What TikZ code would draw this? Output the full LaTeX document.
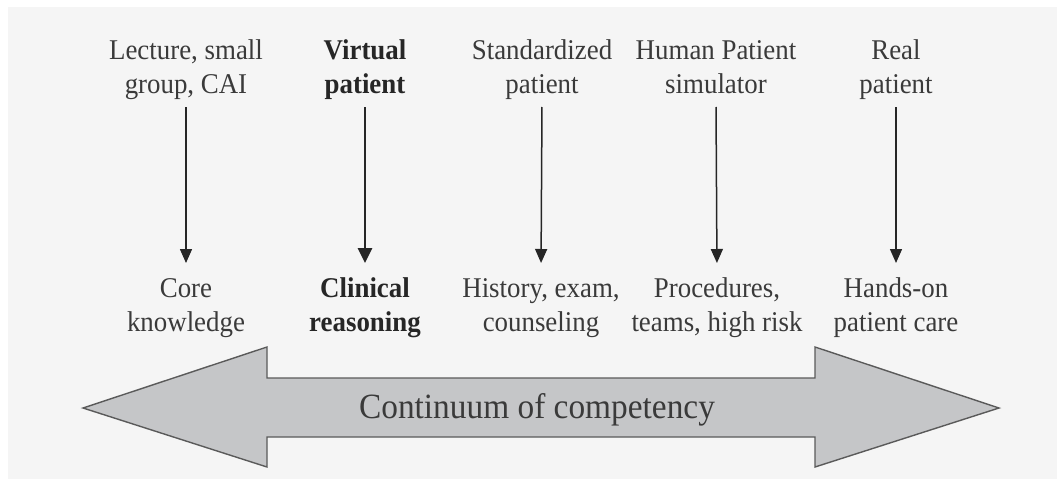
\documentclass[tikz,border=0pt]{standalone}
\usepackage{fontspec}
\setmainfont{Liberation Serif}[FakeStretch=0.94]
\usetikzlibrary{arrows.meta}
\definecolor{panel}{HTML}{F5F5F5}
\definecolor{txt}{HTML}{3A3A3A}
\definecolor{boldtxt}{HTML}{262626}
\definecolor{arrowfill}{HTML}{C5C6C8}
\definecolor{arrowline}{HTML}{5A5A5A}
\begin{document}
\begin{tikzpicture}[x=1pt,y=-1pt,
  lbl/.style={inner sep=0pt, text=txt, font=\fontsize{28.6}{34}\selectfont},
  toplbl/.style={lbl, anchor=south},
  botlbl/.style={lbl, anchor=north},
  bld/.style={text=boldtxt, font=\fontsize{28.6}{34}\selectfont\bfseries},
  conn/.style={draw=black!85, line width=1.5pt, -{Triangle[length=14pt,width=12pt]}, shorten <=3pt, shorten >=10pt},
  bconn/.style={conn, line width=2.8pt, -{Triangle[length=15pt,width=14pt]}},
  bigarrow/.style={fill=arrowfill, draw=arrowline, line width=1.4pt, line join=miter}
]
\useasboundingbox (0,0) rectangle (1057,479);
\fill[panel] (8,7) rectangle (1057,479);

\node[toplbl] (t1) at (186,104) {\begin{tabular}{@{}c@{}}Lecture, small\\group, CAI\end{tabular}};
\node[toplbl,bld] (t2) at (365,104) {\begin{tabular}{@{}c@{}}Virtual\\patient\end{tabular}};
\node[toplbl] (t3) at (542,104) {\begin{tabular}{@{}c@{}}Standardized\\patient\end{tabular}};
\node[toplbl] (t4) at (716,104) {\begin{tabular}{@{}c@{}}Human Patient\\simulator\end{tabular}};
\node[toplbl] (t5) at (896,104) {\begin{tabular}{@{}c@{}}Real\\patient\end{tabular}};

\node[botlbl] (b1) at (186,273) {\begin{tabular}{@{}c@{}}Core\\knowledge\end{tabular}};
\node[botlbl,bld] (b2) at (365,273) {\begin{tabular}{@{}c@{}}Clinical\\reasoning\end{tabular}};
\node[botlbl] (b3) at (541,273) {\begin{tabular}{@{}c@{}}History, exam,\\counseling\end{tabular}};
\node[botlbl] (b4) at (717,273) {\begin{tabular}{@{}c@{}}Procedures,\\teams, high risk\end{tabular}};
\node[botlbl] (b5) at (896,273) {\begin{tabular}{@{}c@{}}Hands-on\\patient care\end{tabular}};

\draw[conn] (t1.south) -- (b1.north);
\draw[bconn] (t2.south) -- (b2.north);
\draw[conn] (t3.south) -- (b3.north);
\draw[conn] (t4.south) -- (b4.north);
\draw[conn] (t5.south) -- (b5.north);

\draw[bigarrow] (83,408) -- (267,347) -- (267,378) -- (815,378) -- (815,347)
  -- (999,408) -- (815,467) -- (815,437) -- (267,437) -- (267,467) -- cycle;
\node[inner sep=0pt, text=txt, font=\fontsize{35.5}{40}\selectfont] (cc) at (537,410) {Continuum of competency};
\end{tikzpicture}
\end{document}
